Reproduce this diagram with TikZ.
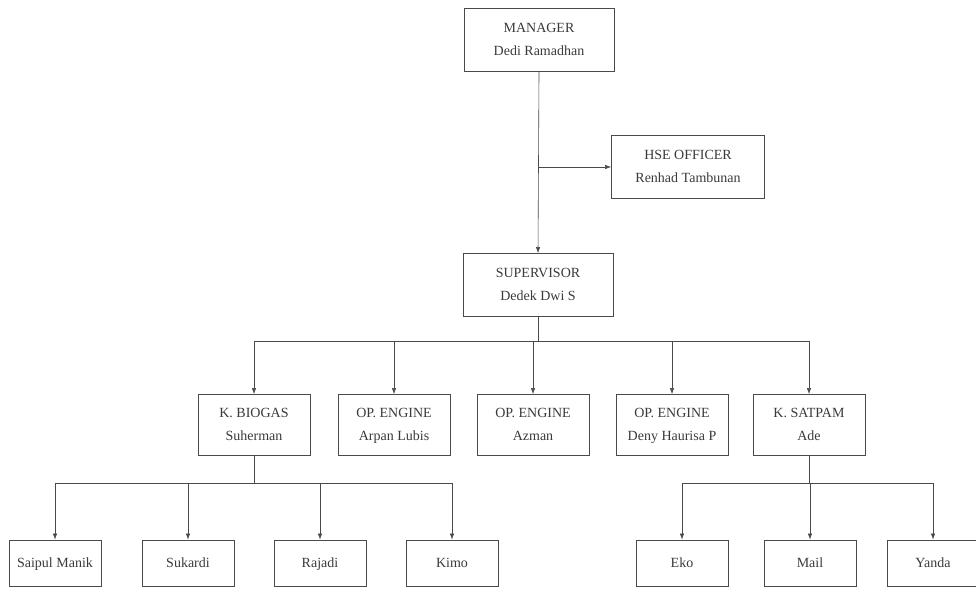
\documentclass[tikz,border=0pt]{standalone}
\usepackage{fontspec}
\setmainfont{Liberation Serif}
\usetikzlibrary{arrows.meta,positioning,calc}
\definecolor{Ink}{HTML}{3A3A3A}
\definecolor{Edge}{HTML}{4A4A4A}

\begin{document}
\begin{tikzpicture}[x=1pt,y=-1pt,
    box/.style={draw=Edge,line width=.9pt,align=center,text=Ink,inner sep=0pt,
      font=\fontsize{14}{23}\selectfont,text depth=1pt,
      execute at begin node={\rule{0pt}{10pt}}},
    bigbox/.style={box,minimum width=150pt,minimum height=63pt},
    midbox/.style={box,minimum width=112pt,minimum height=61pt},
    smallbox/.style={box,minimum width=92pt,minimum height=46pt},
    link/.style={draw=Edge,line width=.6pt},
    arrowlink/.style={link,-{Latex[length=6pt,width=4.5pt]}}]
  \useasboundingbox (0,0) rectangle (976,592);
  % top levels
  \node[bigbox] (manager) at (539,40) {MANAGER\\Dedi Ramadhan};
  \node[bigbox,minimum width=153pt] (hse) at (688,167) {HSE OFFICER\\Renhad Tambunan};
  \node[bigbox] (spv) at (538,285) {SUPERVISOR\\Dedek Dwi S};
  \draw[arrowlink] (manager.south) -- (spv.north);
  \coordinate (hsejoin) at (manager.south |- hse.west);
  \draw[arrowlink] (hsejoin) -- (hse.west);
  % second level
  \foreach \xx/\name/\label in {254/biogas/K. BIOGAS\\Suherman,
      394/arpan/OP. ENGINE\\Arpan Lubis,533/azman/OP. ENGINE\\Azman,
      672/deny/OP. ENGINE\\Deny Haurisa P,809/satpam/K. SATPAM\\Ade}{
    \node[midbox] (\name) at (\xx,425) {\label};
  }
  \coordinate (spvbus) at (spv.south |- 0,341);
  \draw[link] (spv.south) -- (spvbus);
  \draw[link] (biogas.north |- spvbus) -- (satpam.north |- spvbus);
  \foreach \name in {biogas,arpan,azman,deny,satpam}
    \draw[arrowlink] (\name.north |- spvbus) -- (\name.north);
  % third level
  \foreach \xx/\name/\label in {55/saipul/Saipul Manik,188/sukardi/Sukardi,
      320/rajadi/Rajadi,452/kimo/Kimo,682/eko/Eko,810/mail/Mail,933/yanda/Yanda}{
    \node[smallbox] (\name) at (\xx,563) {\label};
  }
  \coordinate (biogasbus) at (biogas.south |- 0,483);
  \coordinate (satpambus) at (satpam.south |- 0,483);
  \draw[link] (biogas.south) -- (biogasbus);
  \draw[link] (satpam.south) -- (satpambus);
  \draw[link] (saipul.north |- biogasbus) -- (kimo.north |- biogasbus);
  \draw[link] (eko.north |- satpambus) -- (yanda.north |- satpambus);
  \foreach \name in {saipul,sukardi,rajadi,kimo,eko,mail,yanda}
    \draw[arrowlink] (\name.north |- biogasbus) -- (\name.north);
\end{tikzpicture}
\end{document}
